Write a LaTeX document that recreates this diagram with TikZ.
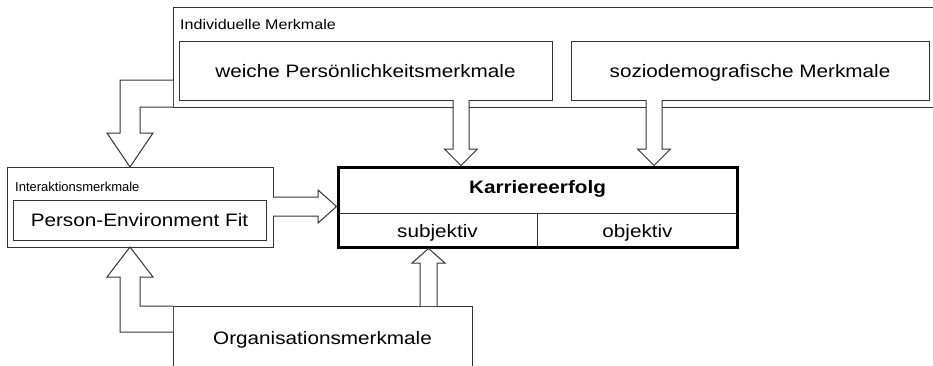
\documentclass[tikz,border=0pt]{standalone}
\usepackage{fontspec}
\setmainfont{Liberation Sans}[FakeStretch=1.15]
\newfontfamily\plainsans{Liberation Sans}
\usetikzlibrary{calc}

\definecolor{linegray}{HTML}{333333}

\tikzset{
  frame/.style={rectangle, draw=linegray, line width=1pt, fill=white,
                inner sep=0pt, outer sep=0pt},
  bigtext/.style={font=\fontsize{18}{20}\selectfont},
  capcentered/.style={bigtext, text height=13pt, text depth=0pt},
  smalltext/.style={font=\fontsize{14}{16}\selectfont, inner sep=0pt},
  blockarrow/.style={draw=linegray, line width=1pt, fill=white, line join=miter},
  thinrule/.style={draw=linegray, line width=1pt},
}

\begin{document}
\begin{tikzpicture}[x=1pt, y=-1pt]
  \useasboundingbox (0,0) rectangle (933,365);
  \begin{scope}
  \clip (0,0) rectangle (933,365);

  % individual characteristics group
  \node[frame, minimum width=767pt, minimum height=100pt] (indiv) at (556.5,57) {};
  \node[smalltext, anchor=base west] (indivlabel) at (180,29) {Individuelle Merkmale};
  \node[frame, capcentered, minimum width=373pt, minimum height=59pt] (soft) at (365.5,70.5)
    {weiche Persönlichkeitsmerkmale};
  \node[frame, capcentered, minimum width=358pt, minimum height=59pt] (socio) at (750,70.5)
    {soziodemografische Merkmale};

  % interaction characteristics group
  \node[frame, minimum width=266pt, minimum height=80pt] (inter) at (140,207) {};
  \node[font=\plainsans\fontsize{13}{15}\selectfont, inner sep=0pt, anchor=base west]
    (interlabel) at (15,191) {Interaktionsmerkmale};
  \node[frame, capcentered, minimum width=253pt, minimum height=40pt] (fit) at (139.5,220)
    {Person-Environment Fit};

  % career success: heavy frame, header row and two sub-cells
  \node[rectangle, draw=black, line width=3pt, fill=white, inner sep=0pt, outer sep=1.5pt,
        minimum width=399pt, minimum height=80pt] (career) at (537.5,207) {};
  \coordinate (rowL) at (338,213);
  \coordinate (rowR) at (737,213);
  \coordinate (rowM) at (537.5,213);
  \draw[thinrule] (rowL) -- (rowR);
  \draw[thinrule] (rowM) -- (537.5,247);
  \node[font=\fontsize{18}{20}\selectfont\bfseries, anchor=base] (careerhead) at (537.5,193) {Karriereerfolg};
  \node[bigtext, anchor=base] (subj) at (437.5,237) {subjektiv};
  \node[bigtext, anchor=base] (obj) at (637.5,237) {objektiv};

  % organisational characteristics
  \node[frame, minimum width=299pt, minimum height=94pt] (org) at (322.5,353) {};
  \node[bigtext, anchor=base] (orglabel) at (322.5,344) {Organisationsmerkmale};

  % block arrows into career success
  \draw[blockarrow] (453,0 |- soft.south) -- (453,149) -- (444.5,149)
    -- (461,0 |- career.north) -- (477.5,149) -- (469,149) -- (469,0 |- soft.south);
  \draw[blockarrow] (646,0 |- socio.south) -- (646,149) -- (637.5,149)
    -- (654,0 |- career.north) -- (670.5,149) -- (662,149) -- (662,0 |- socio.south);
  \draw[blockarrow] (420,0 |- org.north) -- (420,263) -- (412,263)
    -- (428.5,0 |- career.south) -- (445,263) -- (437,263) -- (437,0 |- org.north);
  \draw[blockarrow] (inter.east |- 0,197) -- (318,197) -- (318,190)
    -- (career.west |- 0,206.5) -- (318,223) -- (318,216) -- (inter.east |- 0,216);

  % elbow arrows into interaction characteristics
  \draw[blockarrow] (indiv.west |- 0,80) -- (120,80) -- (120,133) -- (107,133)
    -- (130,0 |- inter.north) -- (153,133) -- (140,133) -- (140,107) -- (indiv.south west);
  \draw[blockarrow] (org.west |- 0,332) -- (120,332) -- (120,277) -- (107,277)
    -- (130,0 |- inter.south) -- (153,277) -- (140,277) -- (140,306) -- (org.north west);
  \end{scope}
\end{tikzpicture}
\end{document}
